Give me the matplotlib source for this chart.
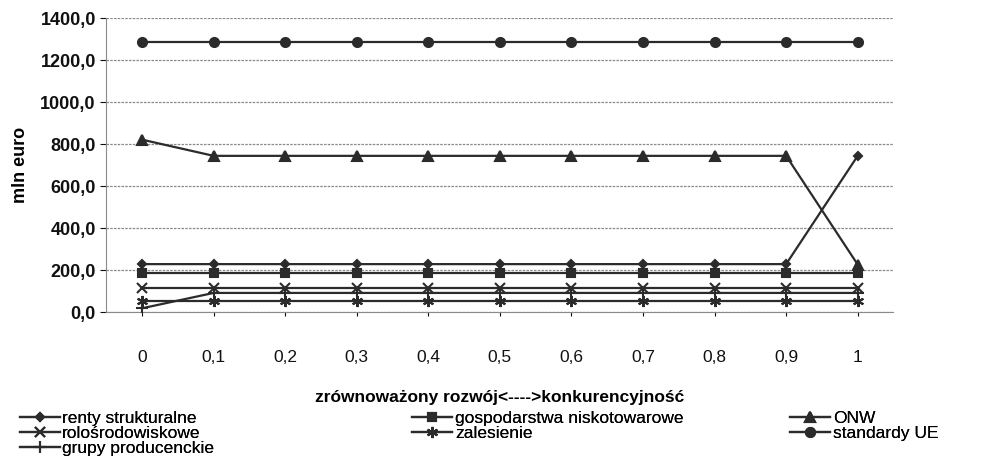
import matplotlib
matplotlib.use("Agg")
import matplotlib.pyplot as plt
from matplotlib.ticker import FuncFormatter

# weights: zrównoważony rozwój (0) <----> konkurencyjność (1)
x_labels = ["0", "0,1", "0,2", "0,3", "0,4", "0,5", "0,6", "0,7", "0,8", "0,9", "1"]

renty_strukturalne = [230, 230, 230, 230, 230, 230, 230, 230, 230, 230, 745]
rolosrodowiskowe = [115, 115, 115, 115, 115, 115, 115, 115, 115, 115, 115]
grupy_producenckie = [20, 93, 93, 93, 93, 93, 93, 93, 93, 93, 93]
gospodarstwa_niskotowarowe = [187, 187, 187, 187, 187, 187, 187, 187, 187, 187, 187]
zalesienie = [56, 56, 56, 56, 56, 56, 56, 56, 56, 56, 56]
onw = [822, 745, 745, 745, 745, 745, 745, 745, 745, 745, 228]
standardy_ue = [1285, 1285, 1285, 1285, 1285, 1285, 1285, 1285, 1285, 1285, 1285]

plt.rcParams["font.family"] = ["Liberation Sans", "DejaVu Sans"]

LINE = "#2b2b2b"
ASTERISK = (6, 2, 0)

fig = plt.figure(figsize=(9.84, 4.65), dpi=100)
ax = fig.add_axes([0.108, 0.328, 0.800, 0.633])

xs = list(range(len(x_labels)))
series = [
    ("renty strukturalne", renty_strukturalne, "D", 4.5),
    ("rolośrodowiskowe", rolosrodowiskowe, "x", 7),
    ("grupy producenckie", grupy_producenckie, "+", 8),
    ("gospodarstwa niskotowarowe", gospodarstwa_niskotowarowe, "s", 5.5),
    ("zalesienie", zalesienie, ASTERISK, 8),
    ("ONW", onw, "^", 6.5),
    ("standardy UE", standardy_ue, "o", 6.5),
]

handles = []
for name, vals, mk, ms in series:
    h, = ax.plot(xs, vals, color=LINE, linewidth=1.6,
                 marker=mk, markersize=ms, markeredgewidth=1.5,
                 markerfacecolor=LINE, markeredgecolor=LINE, label=name,
                 zorder=3)
    handles.append(h)

ax.set_xlim(-0.5, len(x_labels) - 0.5)
ax.set_ylim(0, 1400)
ax.set_yticks(range(0, 1401, 200))
ax.yaxis.set_major_formatter(FuncFormatter(lambda v, p: f"{v:.1f}".replace(".", ",")))
ax.set_xticks(xs)
ax.set_xticklabels(x_labels, fontsize=12.5)

ax.grid(True, axis="y", color="#8a8a8a", linestyle=(0, (2, 1)), linewidth=0.9)
for s in ["top", "right"]:
    ax.spines[s].set_visible(False)
for s in ["left", "bottom"]:
    ax.spines[s].set_color("#8a8a8a")
    ax.spines[s].set_linestyle((0, (2, 1)))
ax.tick_params(axis="y", labelsize=13, colors="#111111", length=4)
ax.tick_params(axis="x", colors="#111111", length=3, pad=24)
for lbl in ax.get_yticklabels():
    lbl.set_fontweight("bold")

ax.set_ylabel("mln euro", fontsize=13, fontweight="bold", labelpad=8)
ax.set_xlabel("zrównoważony rozwój<---->konkurencyjność", fontsize=12.5,
              fontweight="bold", labelpad=18)

legend_kw = dict(loc="upper left", frameon=False, handlelength=2.3,
                 handletextpad=0.15, labelspacing=0.0, borderaxespad=0,
                 borderpad=0, prop={"size": 12.5})
cols = [(handles[0:3], 0.02), (handles[3:5], 0.419), (handles[5:7], 0.803)]
for hs, xpos in cols:
    leg = fig.legend(handles=hs, bbox_to_anchor=(xpos, 0.117), **legend_kw)
    fig.add_artist(leg)

fig.savefig("out.png", dpi=100, facecolor="white")
